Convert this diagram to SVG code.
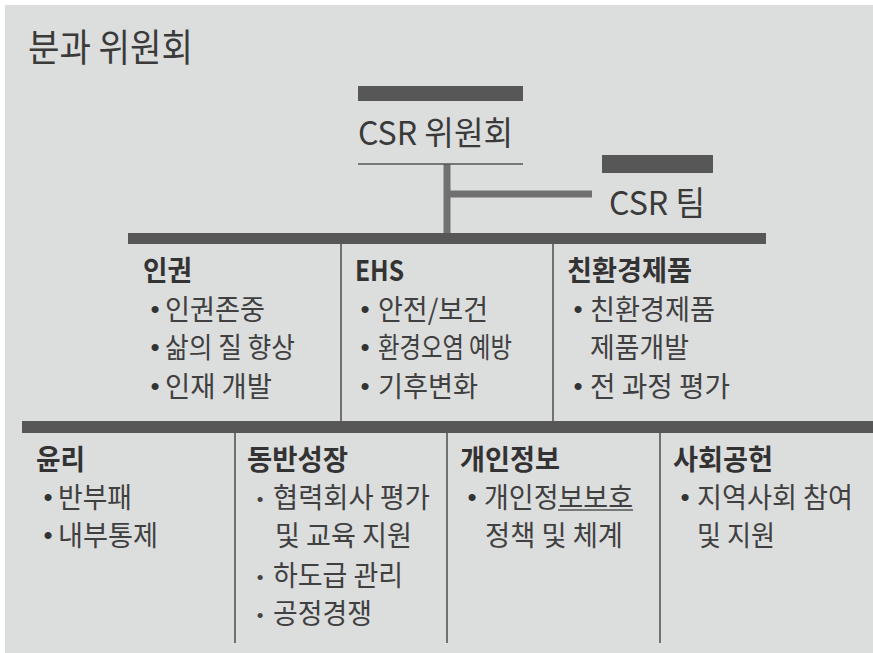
<svg xmlns="http://www.w3.org/2000/svg" width="873" height="653" viewBox="0 0 873 653">
<style>
text{font-family:"Noto Sans CJK KR","Noto Sans",sans-serif;fill:#3a3a3a}
.t{font-size:38px}
.n{font-size:33px}
.h{font-size:28px;font-weight:bold;fill:#333}
.i{font-size:28px;fill:#404040}
.b{font-family:"Liberation Sans",sans-serif;font-size:26px;text-anchor:middle;fill:#333}
.bs{font-family:"Liberation Sans",sans-serif;font-size:19px;text-anchor:middle;fill:#444}
.bar{fill:#575757}
.div{stroke:#555;stroke-width:1.6}
.con{stroke:#707070;stroke-width:7;fill:none}
</style>
<rect x="0" y="0" width="873" height="653" fill="#ffffff"/>
<rect x="5" y="5" width="868" height="648" fill="#dcdddd"/>
<g id="title"><text class="t" x="28" y="61" textLength="165" lengthAdjust="spacingAndGlyphs">분과 위원회</text></g>
<g id="connectors">
<line class="con" x1="447" y1="164" x2="447" y2="238"/>
<line class="con" x1="447" y1="194" x2="592" y2="194" stroke-width="6"/>
<rect class="bar" x="128" y="233" width="638" height="11"/>
<rect class="bar" x="22" y="421" width="851" height="12"/>
<line class="div" x1="341" y1="244" x2="341" y2="421"/>
<line class="div" x1="553" y1="244" x2="553" y2="421"/>
<line class="div" x1="235" y1="433" x2="235" y2="643"/>
<line class="div" x1="447" y1="433" x2="447" y2="643"/>
<line class="div" x1="660" y1="433" x2="660" y2="643"/>
</g>
<g id="csr-committee">
<rect class="bar" x="358" y="86" width="165" height="15"/>
<text class="n" x="358" y="145" textLength="155" lengthAdjust="spacingAndGlyphs">CSR 위원회</text>
<line x1="358" y1="164" x2="523" y2="164" stroke="#555" stroke-width="1.6"/>
</g>
<g id="csr-team">
<rect class="bar" x="602" y="155" width="111" height="18"/>
<text class="n" x="609" y="215" textLength="96" lengthAdjust="spacingAndGlyphs">CSR 팀</text>
</g>
<g id="col-human-rights">
<text class="h" x="143" y="281" textLength="49" lengthAdjust="spacingAndGlyphs">인권</text>
<text class="b" x="155" y="318">•</text><text class="i" x="165" y="320" textLength="100" lengthAdjust="spacingAndGlyphs">인권존중</text>
<text class="b" x="155" y="356">•</text><text class="i" x="165" y="358" textLength="130" lengthAdjust="spacingAndGlyphs">삶의 질 향상</text>
<text class="b" x="155" y="395">•</text><text class="i" x="165" y="397" textLength="107" lengthAdjust="spacingAndGlyphs">인재 개발</text>
</g>
<g id="col-ehs">
<text class="h" x="355" y="281" textLength="49" lengthAdjust="spacingAndGlyphs">EHS</text>
<text class="b" x="365" y="318">•</text><text class="i" x="378" y="320" textLength="110" lengthAdjust="spacingAndGlyphs">안전/보건</text>
<text class="b" x="365" y="356">•</text><text class="i" x="378" y="358" textLength="134" lengthAdjust="spacingAndGlyphs">환경오염 예방</text>
<text class="b" x="365" y="395">•</text><text class="i" x="378" y="397" textLength="100" lengthAdjust="spacingAndGlyphs">기후변화</text>
</g>
<g id="col-eco">
<text class="h" x="567" y="281" textLength="125" lengthAdjust="spacingAndGlyphs">친환경제품</text>
<text class="b" x="578" y="318">•</text><text class="i" x="590" y="320" textLength="125" lengthAdjust="spacingAndGlyphs">친환경제품</text>
<text class="i" x="590" y="358" textLength="99" lengthAdjust="spacingAndGlyphs">제품개발</text>
<text class="b" x="578" y="395">•</text><text class="i" x="590" y="397" textLength="140" lengthAdjust="spacingAndGlyphs">전 과정 평가</text>
</g>
<g id="col-ethics">
<text class="h" x="36" y="470" textLength="49" lengthAdjust="spacingAndGlyphs">윤리</text>
<text class="b" x="48" y="506">•</text><text class="i" x="58" y="508" textLength="74" lengthAdjust="spacingAndGlyphs">반부패</text>
<text class="b" x="48" y="544">•</text><text class="i" x="58" y="546" textLength="100" lengthAdjust="spacingAndGlyphs">내부통제</text>
</g>
<g id="col-growth">
<text class="h" x="247" y="470" textLength="101" lengthAdjust="spacingAndGlyphs">동반성장</text>
<text class="bs" x="260" y="506">•</text><text class="i" x="273" y="508" textLength="157" lengthAdjust="spacingAndGlyphs">협력회사 평가</text>
<text class="i" x="275" y="546" textLength="137" lengthAdjust="spacingAndGlyphs">및 교육 지원</text>
<text class="bs" x="260" y="584">•</text><text class="i" x="273" y="586" textLength="130" lengthAdjust="spacingAndGlyphs">하도급 관리</text>
<text class="bs" x="260" y="622">•</text><text class="i" x="273" y="624" textLength="99" lengthAdjust="spacingAndGlyphs">공정경쟁</text>
</g>
<g id="col-privacy">
<text class="h" x="460" y="470" textLength="100" lengthAdjust="spacingAndGlyphs">개인정보</text>
<text class="b" x="472" y="506">•</text><text class="i" x="484" y="508" textLength="149" lengthAdjust="spacingAndGlyphs">개인정보보호</text>
<line x1="558" y1="510" x2="633" y2="510" stroke="#555" stroke-width="1.3"/>
<text class="i" x="485" y="546" textLength="138" lengthAdjust="spacingAndGlyphs">정책 및 체계</text>
</g>
<g id="col-social">
<text class="h" x="673" y="470" textLength="100" lengthAdjust="spacingAndGlyphs">사회공헌</text>
<text class="b" x="685" y="506">•</text><text class="i" x="697" y="508" textLength="156" lengthAdjust="spacingAndGlyphs">지역사회 참여</text>
<text class="i" x="697" y="546" textLength="78" lengthAdjust="spacingAndGlyphs">및 지원</text>
</g>
</svg>
